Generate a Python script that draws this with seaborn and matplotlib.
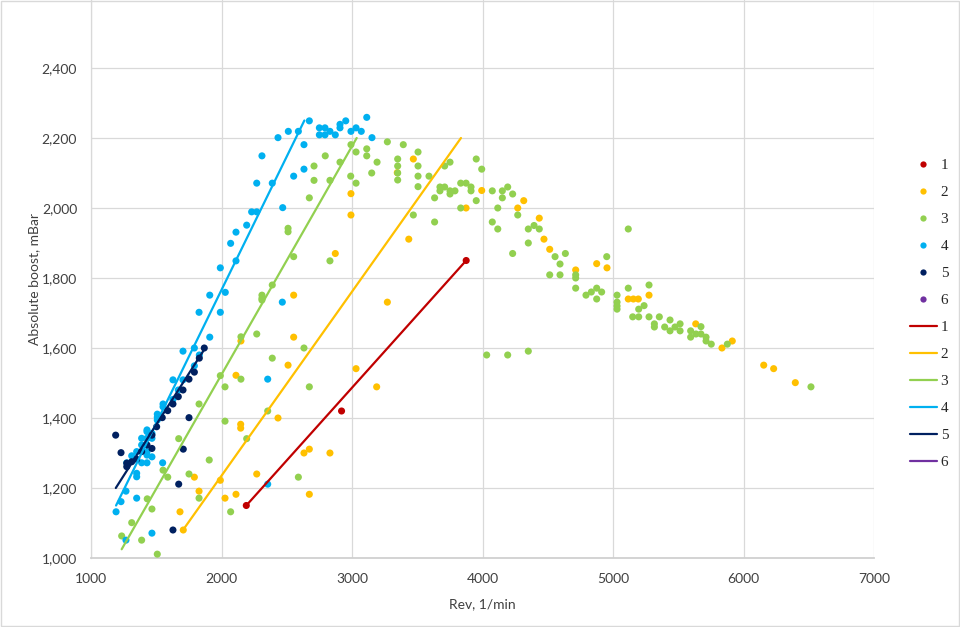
import numpy as np
import pandas as pd
import matplotlib
matplotlib.use("Agg")
import matplotlib.pyplot as plt
import seaborn as sns
from matplotlib.lines import Line2D
from matplotlib.patches import Rectangle
from matplotlib.ticker import FuncFormatter

# ---------------- data ----------------
series_names = ["1", "2", "3", "4", "5", "6"]
series_colors = ["#C00000", "#FFC000", "#92D050", "#00B0F0", "#002060", "#7030A0"]

s1_x = [2190, 2920, 3875]
s1_y = [1150, 1420, 1850]

s2_x = [1707, 1682, 1792, 1828, 1991, 2027, 2111, 2270, 2111, 2147, 2147, 2149, 2433, 2553,
        2510, 2632, 2673, 2831, 2673, 3031, 3189, 3271, 2992, 2992, 3347, 3470, 3435, 3994,
        3874, 2872, 2553, 4316, 4270, 4435, 4471, 4515, 4714, 4875, 4954, 5117, 5156, 5194,
        5276, 5634, 5835, 5914, 6155, 6231, 6397]
s2_y = [1080, 1132, 1231, 1191, 1222, 1171, 1182, 1240, 1522, 1382, 1371, 1620, 1400, 1631,
        1551, 1300, 1311, 1300, 1182, 1541, 1489, 1731, 2041, 1980, 2101, 2140, 1911, 2050,
        2000, 1870, 1751, 2021, 2000, 1971, 1911, 1882, 1823, 1841, 1829, 1740, 1740, 1740,
        1751, 1669, 1600, 1620, 1551, 1541, 1501]

s3_x = [1508, 1235, 1388, 1312, 1467, 1431, 1552, 1588, 1751, 1828, 1672, 1828, 1906, 1991,
        2027, 2027, 2149, 2149, 2270, 2389, 2354, 2193, 2070, 2632, 2673, 2589,
        2310, 2310, 2310, 2389, 2553, 2510, 2510, 2673, 2709, 2709, 2795, 2831, 2908, 2831,
        2990, 3031, 3031, 3113, 3113, 3151, 3192, 2992,
        3271, 3393, 3350, 3350, 3350, 3350, 3506, 3506, 3506, 3506, 3470,
        3590, 3633, 3633, 3674, 3674, 3710, 3751, 3751, 3789, 3710, 3751, 3833, 3874, 3833,
        3912, 3912, 3952, 3994, 3952, 4075, 4152, 4193, 4231, 4152, 4117, 4075, 4117, 4270,
        4231, 4351, 4395, 4435, 4351, 4556, 4594, 4635,
        4032, 4193, 4351, 5117,
        4515, 4594, 4714, 4714, 4714, 4793, 4834, 4875, 4875, 4913, 4952, 5031, 5031, 5031,
        5031, 5117, 5276, 5197, 5238, 5151, 5197, 5276, 5355, 5317, 5317, 5396, 5437, 5437,
        5475, 5514, 5514, 5595, 5595, 5636, 5674, 5674, 5713, 5713, 5753, 5876, 6517]
s3_y = [1011, 1063, 1051, 1101, 1140, 1169, 1251, 1231, 1240, 1171, 1341, 1440, 1280, 1521,
        1489, 1391, 1632, 1511, 1640, 1571, 1420, 1341, 1132, 1600, 1489, 1231,
        1751, 1742, 1737, 1780, 1861, 1942, 1932, 2029, 2120, 2079, 2149, 2079, 2131, 1849,
        2091, 2071, 2160, 2169, 2149, 2100, 2131, 2181,
        2189, 2181, 2140, 2120, 2100, 2080, 2160, 2120, 2091, 2061, 1980,
        2091, 2029, 1960, 2060, 2049, 2060, 2049, 2040, 2049, 2120, 2131, 2071, 2071, 2000,
        2060, 2049, 2140, 2111, 2021, 2049, 2049, 2060, 2040, 2029, 2000, 1960, 1940, 1980,
        1870, 1940, 1950, 1940, 1900, 1861, 1840, 1870,
        1580, 1580, 1591, 1940,
        1809, 1809, 1809, 1800, 1771, 1751, 1760, 1771, 1740, 1760, 1861, 1751, 1731, 1720,
        1711, 1771, 1780, 1711, 1721, 1689, 1689, 1689, 1689, 1669, 1660, 1660, 1680, 1649,
        1660, 1669, 1649, 1649, 1631, 1640, 1661, 1640, 1631, 1620, 1611, 1611, 1489]

s4_x = [2673, 2512, 2589, 2433, 2750, 2793, 2750, 2793, 2831, 2872, 2908, 2908, 2952, 2992,
        3031, 3071, 3113, 3153, 2632, 2310, 2632, 2553, 2270, 2389, 2469, 2231, 2270, 2193,
        2111, 2070, 1991, 2111, 1910, 2029, 1828, 1991, 1910, 2466, 1705, 1792, 1830, 1792,
        1628, 1705, 1669, 1628, 1552, 1552, 1508, 1508, 1508, 1429, 1429, 1467, 1388, 1429,
        1467, 1388, 1429, 1429, 1350, 1312, 1467, 1388, 1429, 1274, 1350, 1350, 1549, 1268,
        1350, 1230, 1192, 1467, 1268, 2354, 2354]
s4_y = [2249, 2219, 2219, 2201, 2229, 2229, 2209, 2209, 2219, 2209, 2239, 2229, 2249, 2219,
        2229, 2219, 2259, 2201, 2181, 2149, 2111, 2091, 2071, 2071, 2001, 1989, 1989, 1951,
        1931, 1899, 1829, 1849, 1751, 1759, 1702, 1702, 1631, 1731, 1591, 1600, 1580, 1549,
        1509, 1509, 1480, 1453, 1440, 1432, 1411, 1402, 1394, 1366, 1361, 1356, 1342, 1342,
        1342, 1323, 1304, 1294, 1304, 1292, 1289, 1272, 1272, 1272, 1242, 1232, 1272, 1191,
        1171, 1161, 1132, 1071, 1051, 1511, 1211]

s5_x = [1868, 1830, 1792, 1751, 1705, 1669, 1628, 1588, 1546, 1751, 1503, 1467, 1429, 1467,
        1388, 1350, 1312, 1274, 1274, 1189, 1230, 1707, 1672, 1628]
s5_y = [1600, 1571, 1531, 1511, 1480, 1461, 1440, 1421, 1401, 1401, 1375, 1351, 1323, 1313,
        1304, 1282, 1275, 1271, 1261, 1351, 1301, 1311, 1211, 1080]

s6_x = []
s6_y = []

# trend lines (two points each)
l1_x = [2190, 3875]
l1_y = [1150, 1850]
l2_x = [1705, 3835]
l2_y = [1080, 2200]
l3_x = [1235, 3036]
l3_y = [1025, 2200]
l4_x = [1192, 2635]
l4_y = [1150, 2250]
l5_x = [1190, 1875]
l5_y = [1200, 1600]
l6_x = []
l6_y = []

x_ticks = [1000, 2000, 3000, 4000, 5000, 6000, 7000]
y_ticks = [1000, 1200, 1400, 1600, 1800, 2000, 2200, 2400]
x_label = "Rev, 1/min"
y_label = "Absolute boost, mBar"

# ---------------- build tables ----------------
pts = []
for name, xs, ys in zip(series_names, [s1_x, s2_x, s3_x, s4_x, s5_x, s6_x],
                        [s1_y, s2_y, s3_y, s4_y, s5_y, s6_y]):
    for a, b in zip(xs, ys):
        pts.append((name, a, b))
df_pts = pd.DataFrame(pts, columns=["series", "rev", "boost"])

lns = []
for name, xs, ys in zip(series_names, [l1_x, l2_x, l3_x, l4_x, l5_x, l6_x],
                        [l1_y, l2_y, l3_y, l4_y, l5_y, l6_y]):
    for a, b in zip(xs, ys):
        lns.append((name, a, b))
df_lns = pd.DataFrame(lns, columns=["series", "rev", "boost"])

palette = dict(zip(series_names, series_colors))

# ---------------- plot ----------------
sns.set_theme(style="white")
plt.rcParams["font.family"] = ["Lato", "DejaVu Sans"]

fig = plt.figure(figsize=(9.6, 6.27), dpi=100)
ax = fig.add_axes([91 / 960, 1 - 558 / 627, (874 - 91) / 960, 558 / 627])

for name in series_names:
    sub = df_pts[df_pts.series == name]
    if len(sub):
        sns.scatterplot(data=sub, x="rev", y="boost", color=palette[name], s=26,
                        edgecolor="none", linewidth=0, ax=ax, legend=False, zorder=3)
for name in series_names:
    sub = df_lns[df_lns.series == name]
    if len(sub):
        sns.lineplot(data=sub, x="rev", y="boost", color=palette[name], lw=1.6,
                     estimator=None, sort=False, ax=ax, legend=False, zorder=4)

ax.set_xlim(1000, 7000)
ax.set_ylim(1000, 1000 + 558 / 0.35)
ax.set_xticks(x_ticks)
ax.set_yticks(y_ticks)
ax.yaxis.set_major_formatter(FuncFormatter(lambda v, p: f"{int(v):,}"))
ax.grid(True, color="#D9D9D9", lw=0.9)
ax.set_axisbelow(True)
for sp in ["top", "right"]:
    ax.spines[sp].set_visible(False)
ax.spines["left"].set_color("#D9D9D9")
ax.spines["bottom"].set_color("#D0D0D0")
ax.spines["bottom"].set_linewidth(1.3)
ax.spines["left"].set_linewidth(0.9)
ax.tick_params(axis="both", length=0, labelsize=10, colors="#404040")
ax.tick_params(axis="x", pad=11)
ax.tick_params(axis="y", pad=10)
ax.set_xlabel(x_label, fontsize=10, color="#404040", labelpad=9)
ax.set_ylabel(y_label, fontsize=10, color="#404040", labelpad=1)

# legend
handles = []
labels = []
for name, c in zip(series_names, series_colors):
    handles.append(Line2D([], [], marker="o", ls="none", color=c, markersize=4.5,
                          markeredgewidth=0))
    labels.append(name)
for name, c in zip(series_names, series_colors):
    handles.append(Line2D([], [], color=c, lw=1.6))
    labels.append(name)
leg = fig.legend(handles, labels, loc="upper left", bbox_to_anchor=(896 / 960, 1 - 145 / 627),
                 frameon=False, handlelength=1.77, handletextpad=0.25, labelspacing=0.87,
                 prop={"family": "Liberation Serif", "size": 11})
for t in leg.get_texts():
    t.set_color("#262626")

fig.patches.append(Rectangle((0.0015, 0.002), 0.997, 0.996, transform=fig.transFigure,
                             fill=False, edgecolor="#D9D9D9", lw=1))

fig.savefig("out.png", dpi=100)
